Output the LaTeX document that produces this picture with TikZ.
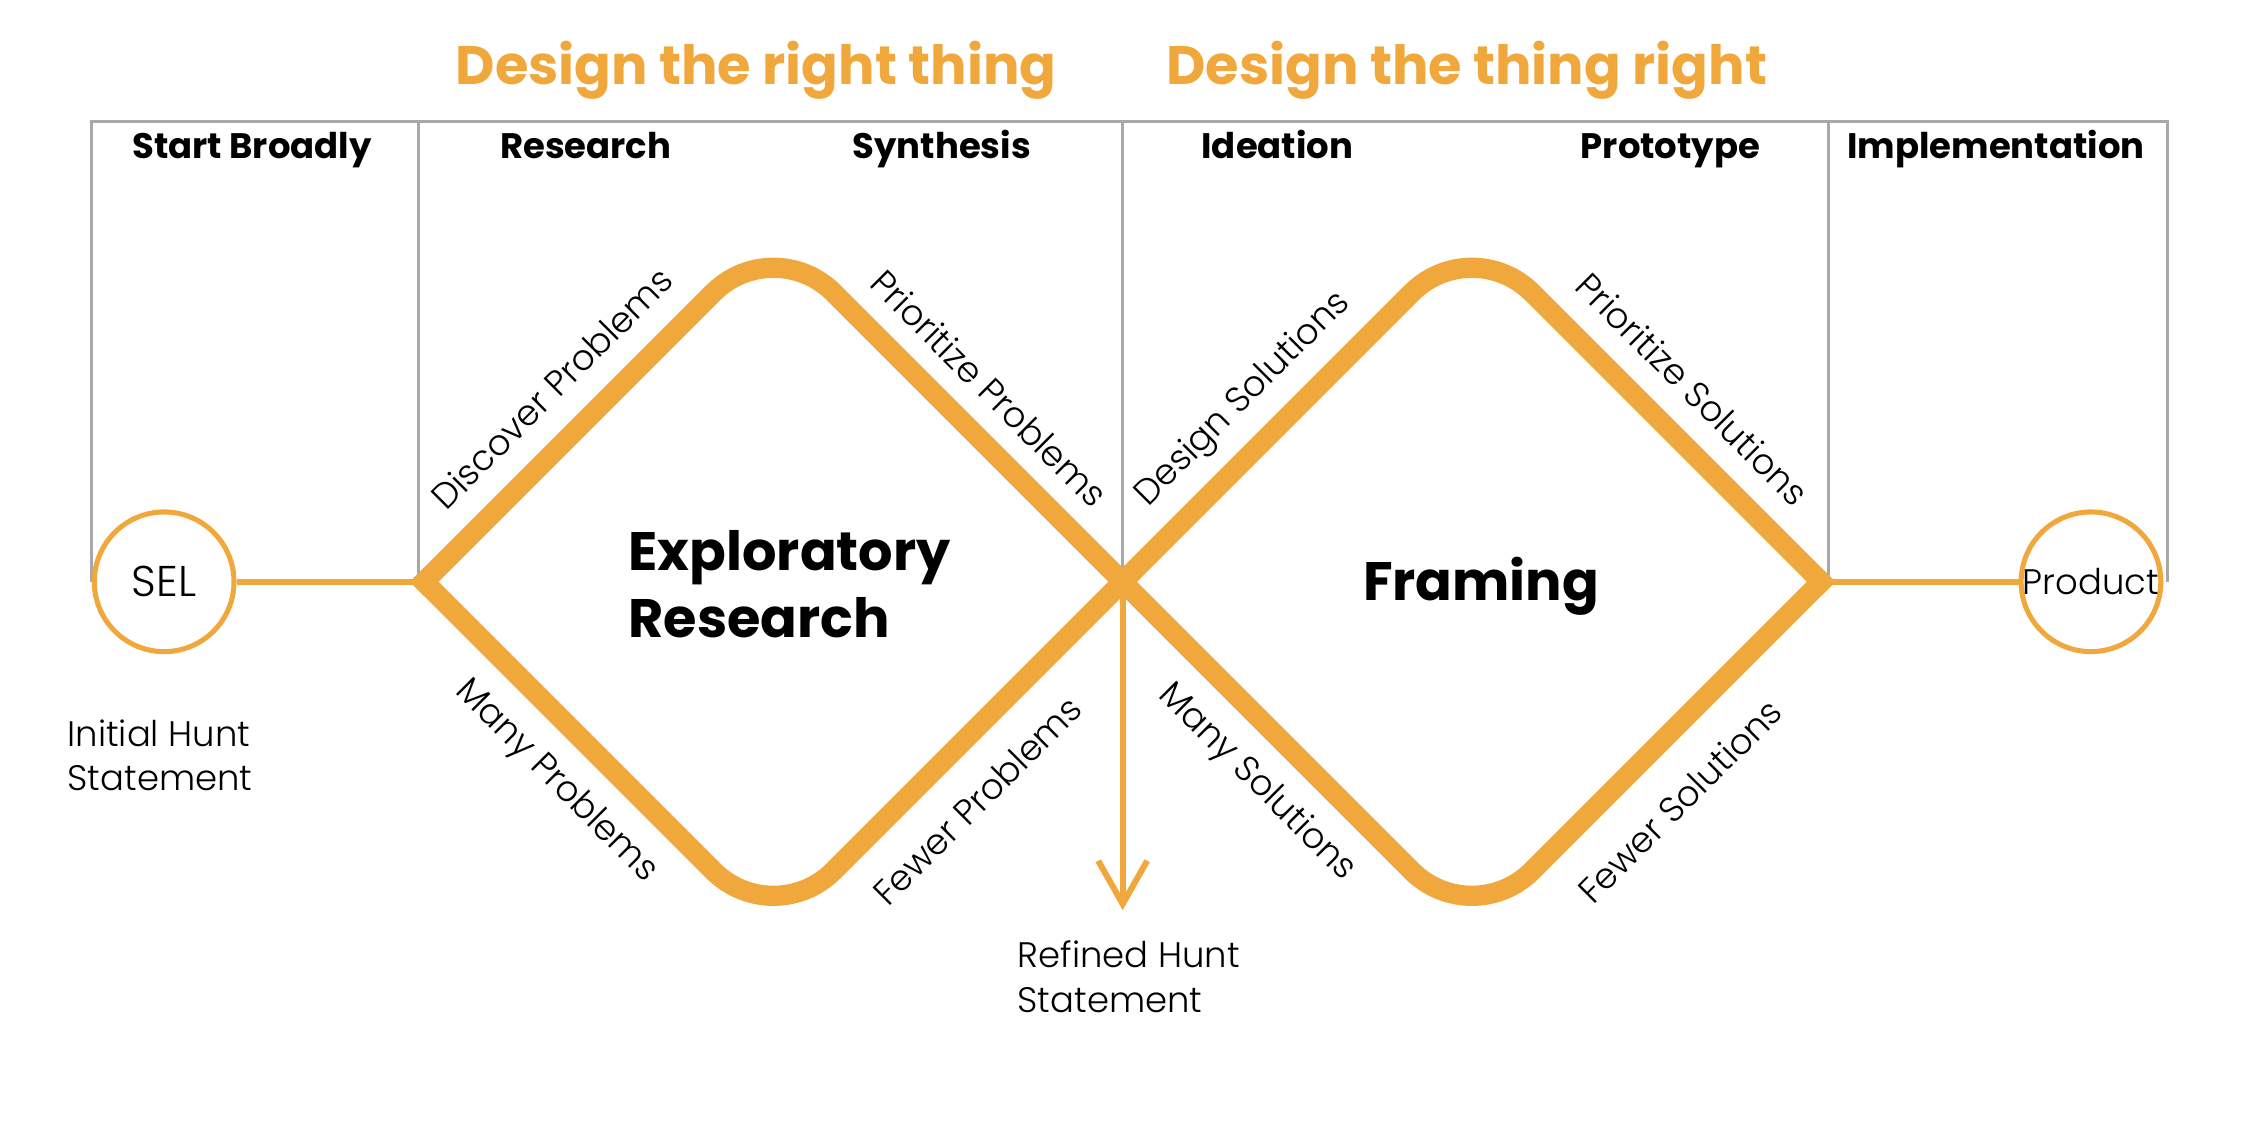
\documentclass[tikz,border=0pt]{standalone}
\usepackage{fontspec}
\setmainfont{Poppins}
\newfontfamily\thinfont{Poppins Light}
\usetikzlibrary{positioning,arrows.meta}

\definecolor{huntorange}{HTML}{F0A83C}
\definecolor{gridgray}{HTML}{A8A8A8}

\begin{document}
\begin{tikzpicture}[>=Latex, every node/.style={inner sep=0pt},
  lab/.style={font=\thinfont\fontsize{7}{8.8}\selectfont},
  head/.style={font=\bfseries\fontsize{7}{8.4}\selectfont, anchor=base},
  ttl/.style={font=\bfseries\fontsize{10.7}{13}\selectfont, text=huntorange, anchor=base},
  bigname/.style={font=\bfseries\fontsize{10.7}{13.3}\selectfont},
  ring/.style={draw=huntorange, line width=1pt, circle, minimum size=0.97cm, fill=white, font=\thinfont\fontsize{7}{8.8}\selectfont},
  dia/.style={draw=huntorange, line width=4pt, rounded corners=5.9mm, line cap=rect},
  conn/.style={draw=huntorange, line width=1.2pt},
  gridln/.style={draw=gridgray, line width=0.6pt}]
  \useasboundingbox (0,0) rectangle (15.68,7.90);

  \draw[gridln] (0.637,3.86) -- (0.637,7.057) -- (15.053,7.057) -- (15.053,3.86);
  \foreach \x in {2.905,7.796,12.697} \draw[gridln] (\x,7.057) -- (\x,3.86);

  \node[ttl] (t1) at (5.25,7.31) {Design the right thing};
  \node[ttl] (t2) at (10.185,7.31) {Design the thing right};

  \node[head] (h1) at (1.75,6.80) {Start Broadly};
  \node[head] (h2) at (4.067,6.80) {Research};
  \node[head] (h3) at (6.54,6.80) {Synthesis};
  \node[head] (h4) at (8.87,6.80) {Ideation};
  \node[head] (h5) at (11.60,6.80) {Prototype};
  \node[head] (h6) at (13.86,6.80) {Implementation};

  \coordinate (d1l) at (2.946,3.86);
  \coordinate (d1t) at (5.371,6.285);
  \coordinate (mid) at (7.796,3.86);
  \coordinate (d1b) at (5.371,1.435);
  \coordinate (d2t) at (10.221,6.285);
  \coordinate (d2r) at (12.646,3.86);
  \coordinate (d2b) at (10.221,1.435);
  \coordinate (arw) at (7.796,1.58);

  \node[ring, font=\thinfont\fontsize{8.5}{10}\selectfont] (sel) at (1.14,3.86) {SEL};
  \node[ring] (prod) at (14.52,3.86) {Product};

  \draw[conn] (sel) -- (d1l);
  \draw[conn] (d2r) -- (prod);
  \draw[conn, -{Straight Barb[length=3mm, width=3.4mm]}] (mid) -- (arw);

  \draw[dia] (d1l) -- (d1t) -- (mid);
  \draw[dia] (d1l) -- (d1b) -- (mid);
  \draw[dia] (mid) -- (d2t) -- (d2r);
  \draw[dia] (mid) -- (d2b) -- (d2r);

  \node[bigname, anchor=base west, align=left] (er) at (4.358,3.47) {Exploratory\\Research};
  \node[bigname, anchor=base] (fr) at (10.285,3.733) {Framing};

  \node[lab, rotate=45] (dp) at (3.83,5.205) {Discover Problems};
  \node[lab, rotate=-45] (pp) at (6.87,5.203) {Prioritize Problems};
  \node[lab, rotate=-45] (mp) at (3.86,2.47) {Many Problems};
  \node[lab, rotate=45] (fp) at (6.785,2.34) {Fewer Problems};
  \node[lab, rotate=45] (ds) at (8.635,5.125) {Design Solutions};
  \node[lab, rotate=-45] (ps) at (11.755,5.20) {Prioritize Solutions};
  \node[lab, rotate=-45] (ms) at (8.725,2.465) {Many Solutions};
  \node[lab, rotate=45] (fs) at (11.665,2.34) {Fewer Solutions};

  \node[lab, anchor=base west, align=left] (ihs) at (0.463,2.41) {Initial Hunt\\Statement};
  \node[lab, anchor=base west, align=left] (rhs) at (7.06,0.87) {Refined Hunt\\Statement};
\end{tikzpicture}
\end{document}
